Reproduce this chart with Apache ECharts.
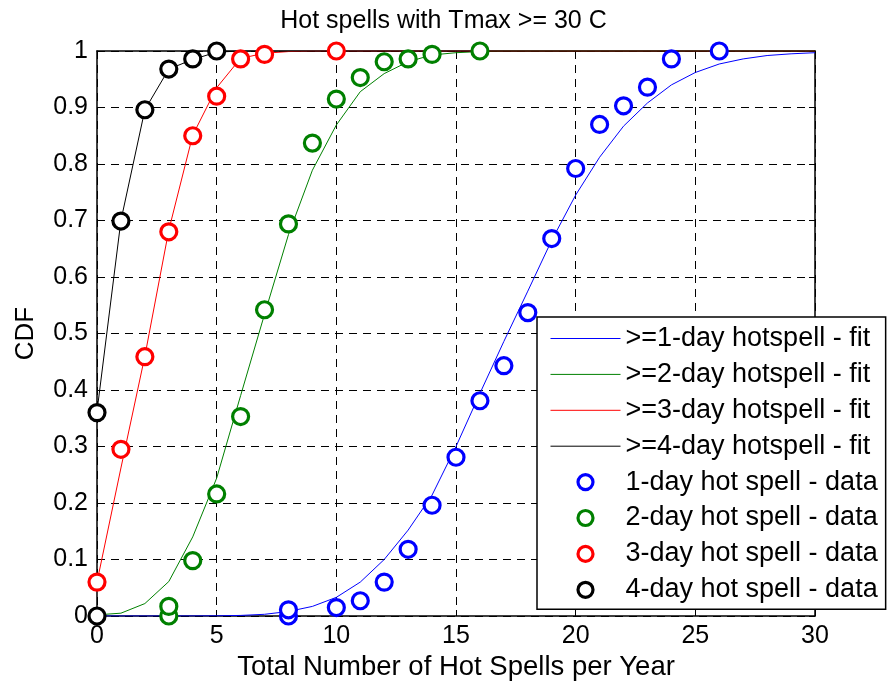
<!DOCTYPE html>
<html>
<head>
<meta charset="utf-8">
<script src="https://cdn.jsdelivr.net/npm/echarts@6/dist/echarts.min.js"></script>
<style>
  html, body { margin: 0; padding: 0; background: #fff; }
  #chart { width: 887px; height: 688px; }
</style>
</head>
<body>
<div id="chart"></div>
<script>
// Number of hot spells per year (x grid shared by the fitted curves)
const xFit = [0,1,2,3,4,5,6,7,8,9,10,11,12,13,14,15,16,17,18,19,20,21,22,23,24,25,26,27,28,29,30];

// Fitted CDF curves
const fit1 = [0,0,0,0,0.0001,0.0003,0.001,0.003,0.008,0.017,0.033,0.060,0.100,0.152,0.214,0.300,0.394,0.486,0.575,0.665,0.745,0.812,0.867,0.908,0.940,0.962,0.977,0.986,0.992,0.995,0.997];
const fit2 = [0.002,0.005,0.022,0.061,0.140,0.244,0.390,0.534,0.675,0.789,0.869,0.928,0.960,0.981,0.993,0.997,0.999,1,1,1,1,1,1,1,1,1,1,1,1,1,1];
const fit3 = [0.060,0.262,0.460,0.683,0.851,0.935,0.987,0.996,0.999,1,1,1,1,1,1,1,1,1,1,1,1,1,1,1,1,1,1,1,1,1,1];
const fit4 = [0.362,0.700,0.896,0.968,0.985,0.998,1,1,1,1,1,1,1,1,1,1,1,1,1,1,1,1,1,1,1,1,1,1,1,1,1];

// Empirical CDF points
const data1X = [8, 8, 10, 11, 12, 13, 14, 15, 16, 17, 18, 19, 20, 21, 22, 23, 24, 26];
const data1Y = [0.0, 0.011, 0.015, 0.027, 0.060, 0.118, 0.196, 0.281, 0.381, 0.443, 0.537, 0.668, 0.792, 0.870, 0.903, 0.936, 0.986, 1.0];
const data2X = [3, 3, 4, 5, 6, 7, 8, 9, 10, 11, 12, 13, 14, 16];
const data2Y = [0.0, 0.017, 0.098, 0.216, 0.353, 0.542, 0.694, 0.837, 0.915, 0.953, 0.981, 0.986, 0.994, 1.0];
const data3X = [0, 1, 2, 3, 4, 5, 6, 7, 10];
const data3Y = [0.060, 0.295, 0.459, 0.680, 0.850, 0.920, 0.986, 0.994, 1.0];
const data4X = [0, 0, 1, 2, 3, 4, 5];
const data4Y = [0.0, 0.360, 0.699, 0.896, 0.968, 0.986, 1.0];

const fitNames = ['>=1-day hotspell - fit', '>=2-day hotspell - fit', '>=3-day hotspell - fit', '>=4-day hotspell - fit'];
const dataNames = ['1-day hot spell - data', '2-day hot spell - data', '3-day hot spell - data', '4-day hot spell - data'];
const colors = ['#0000ff', '#008000', '#ff0000', '#000000'];

const FONT = '"Liberation Sans", Arial, Helvetica, sans-serif';
const zip = (xs, ys) => xs.map((x, i) => [x, ys[i]]);

const fits = [fit1, fit2, fit3, fit4];
const pts = [[data1X, data1Y], [data2X, data2Y], [data3X, data3Y], [data4X, data4Y]];

const series = [];
fits.forEach((f, i) => {
  series.push({
    name: fitNames[i], type: 'line', data: zip(xFit, f),
    symbol: 'none', showSymbol: false,
    lineStyle: { color: colors[i], width: 1 },
    itemStyle: { color: colors[i], opacity: 0 }, animation: false, z: 2
  });
});
pts.forEach((p, i) => {
  series.push({
    name: dataNames[i], type: 'scatter', data: zip(p[0], p[1]),
    symbol: 'circle', symbolSize: 16,
    itemStyle: { color: '#fff', borderColor: colors[i], borderWidth: 3.2, opacity: 1 },
    animation: false, z: 3
  });
});

// Legend entries: thin line samples for the fits, thick rings for the data
const legendData = fitNames.map((n, i) => ({
  name: n, lineStyle: { color: colors[i], width: 1 }, itemStyle: { opacity: 0 }
})).concat(dataNames.map((n, i) => ({
  name: n, itemStyle: { color: '#fff', borderColor: colors[i], borderWidth: 3.2 }
})));

const axisCommon = {
  axisLine: { show: true, onZero: false, lineStyle: { color: '#000', width: 1.5 } },
  axisTick: { show: true, inside: true, length: 6, lineStyle: { color: '#000', width: 1 } }
};

const chart = echarts.init(document.getElementById('chart'), null, { renderer: 'canvas' });
chart.setOption({
  backgroundColor: '#fff',
  animation: false,
  title: {
    text: 'Hot spells with Tmax >= 30 C', left: 'center', top: 4,
    textStyle: { fontFamily: FONT, fontSize: 25, fontWeight: 'normal', color: '#000' }
  },
  grid: { left: 97, right: 72, top: 51, bottom: 72, containLabel: false },
  legend: {
    orient: 'vertical', left: 537, top: 317,
    padding: [8, 8, 6, 13], itemGap: 8.9, itemWidth: 70, itemHeight: 15,
    backgroundColor: '#fff', borderColor: '#000', borderWidth: 1.5, borderRadius: 0,
    textStyle: { fontFamily: FONT, fontSize: 27, color: '#000', lineHeight: 24 },
    data: legendData
  },
  xAxis: [
    Object.assign({
      type: 'value', min: 0, max: 30, interval: 5, position: 'bottom',
      name: 'Total Number of Hot Spells per Year', nameLocation: 'middle', nameGap: 35,
      nameTextStyle: { fontFamily: FONT, fontSize: 27.5, color: '#000' },
      axisLabel: { fontFamily: FONT, fontSize: 25, color: '#000', margin: 8 },
      splitLine: { show: true, lineStyle: { color: '#000', type: [8, 6], width: 1 } }
    }, axisCommon),
    Object.assign({
      type: 'value', min: 0, max: 30, interval: 5, position: 'top',
      axisLabel: { show: false }, splitLine: { show: false }
    }, axisCommon)
  ],
  yAxis: [
    Object.assign({
      type: 'value', min: 0, max: 1, interval: 0.1, position: 'left',
      name: 'CDF', nameLocation: 'middle', nameGap: 58, nameRotate: 90,
      nameTextStyle: { fontFamily: FONT, fontSize: 26, color: '#000' },
      axisLabel: { fontFamily: FONT, fontSize: 25, color: '#000', margin: 9 },
      splitLine: { show: true, lineStyle: { color: '#000', type: [8, 6], width: 1 } }
    }, axisCommon),
    Object.assign({
      type: 'value', min: 0, max: 1, interval: 0.1, position: 'right',
      axisLabel: { show: false }, splitLine: { show: false }
    }, axisCommon)
  ],
  series: series
});
</script>
</body>
</html>
